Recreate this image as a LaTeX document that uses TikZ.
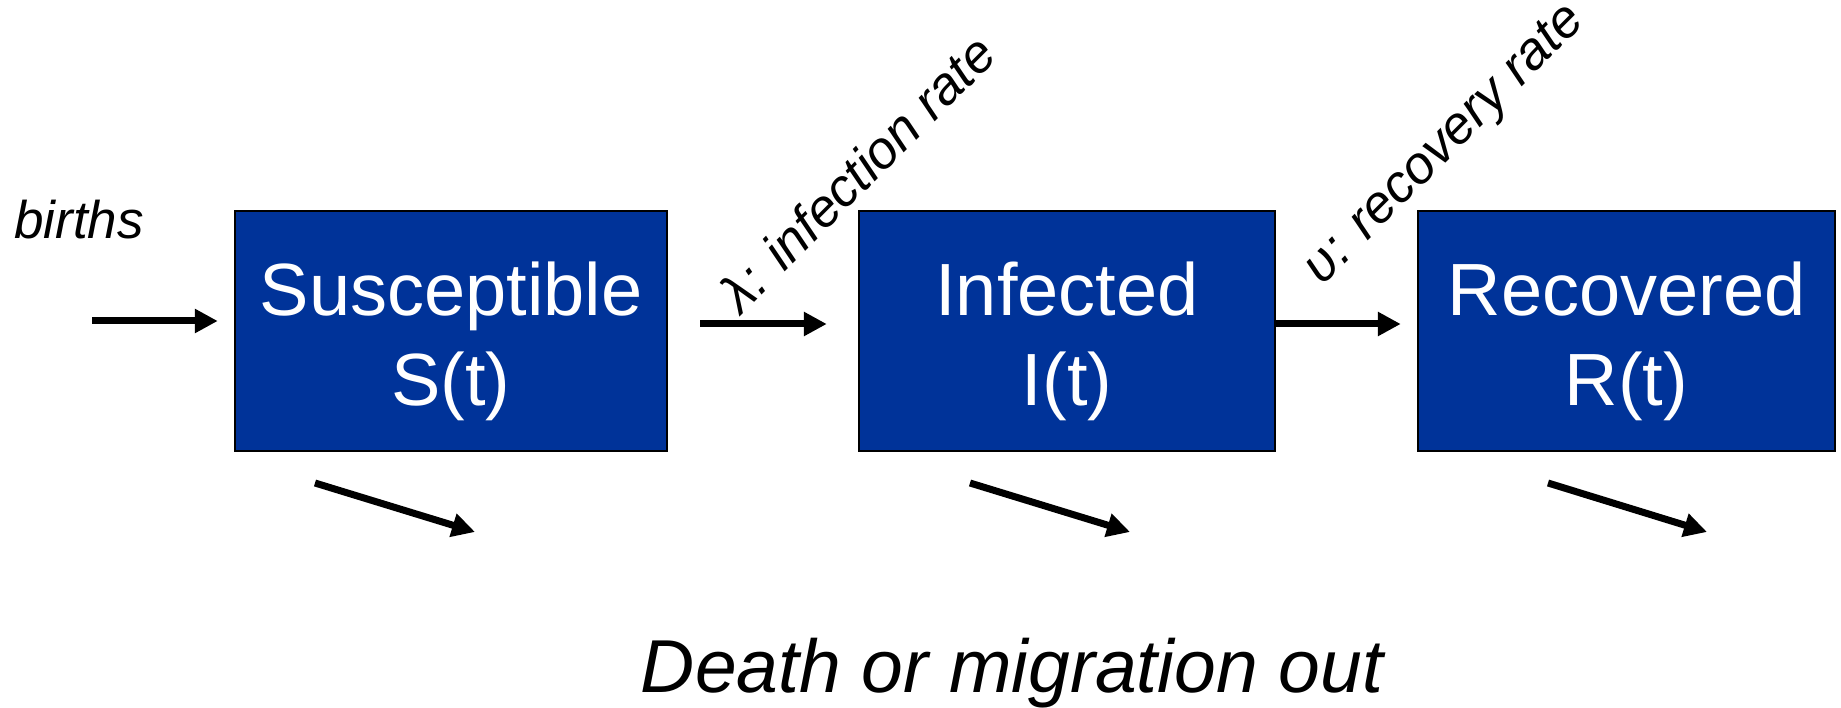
\documentclass[tikz,border=0pt]{standalone}
\usepackage{fontspec}
\setmainfont{Liberation Sans}
\usetikzlibrary{arrows.meta}
\definecolor{boxblue}{RGB}{0,51,153}
\newcommand{\twoline}[2]{\raisebox{-12pt}[\height][\depth]{\begin{tabular}{@{}c@{}}#1\\#2\end{tabular}}}
\begin{document}
\begin{tikzpicture}[x=1pt,y=-1pt,
  compbox/.style={draw=black, line width=2.5pt, fill=boxblue, text=white,
    minimum height=240pt, inner sep=0pt,
    font=\fontsize{74}{90}\selectfont},
  flow/.style={line width=7pt, -{Triangle[length=23pt,width=23pt]}},
  lbl/.style={font=\fontsize{53}{60}\selectfont\itshape, inner sep=0pt},
  biglbl/.style={font=\fontsize{75}{90}\selectfont\itshape, inner sep=0pt}]
\useasboundingbox (0,0) rectangle (1841,708);

\node[compbox, minimum width=432pt] (S) at (451,331) {\twoline{Susceptible}{S(t)}};
\node[compbox, minimum width=416pt] (I) at (1067,331) {\twoline{Infected}{I(t)}};
\node[compbox, minimum width=417pt] (R) at (1626.5,331) {\twoline{Recovered}{R(t)}};

\node[lbl, anchor=base west] (births) at (14,239) {births};
\coordinate (bstart) at (92,321);
\draw[flow, shorten >=16pt] (bstart) -- (bstart -| S.west);

\draw[flow, shorten <=32pt, shorten >=31pt] ([yshift=7pt]S.east) -- ([yshift=7pt]I.west);
\draw[flow, shorten >=16pt] ([yshift=7pt]I.east) -- ([yshift=7pt]R.west);

\node[lbl, rotate=45] (lam) at (857,173) {λ: infection rate};
\node[lbl, rotate=45] (ups) at (1446,146) {υ: recovery rate};

\coordinate (d1s) at (315,483); \coordinate (d1e) at (475,532);
\coordinate (d2s) at (970,483); \coordinate (d2e) at (1130,532);
\coordinate (d3s) at (1548,483); \coordinate (d3e) at (1707,532);
\draw[flow] (d1s) -- (d1e);
\draw[flow] (d2s) -- (d2e);
\draw[flow] (d3s) -- (d3e);

\node[biglbl, anchor=base] (death) at (1012,692) {Death or migration out};
\end{tikzpicture}
\end{document}
